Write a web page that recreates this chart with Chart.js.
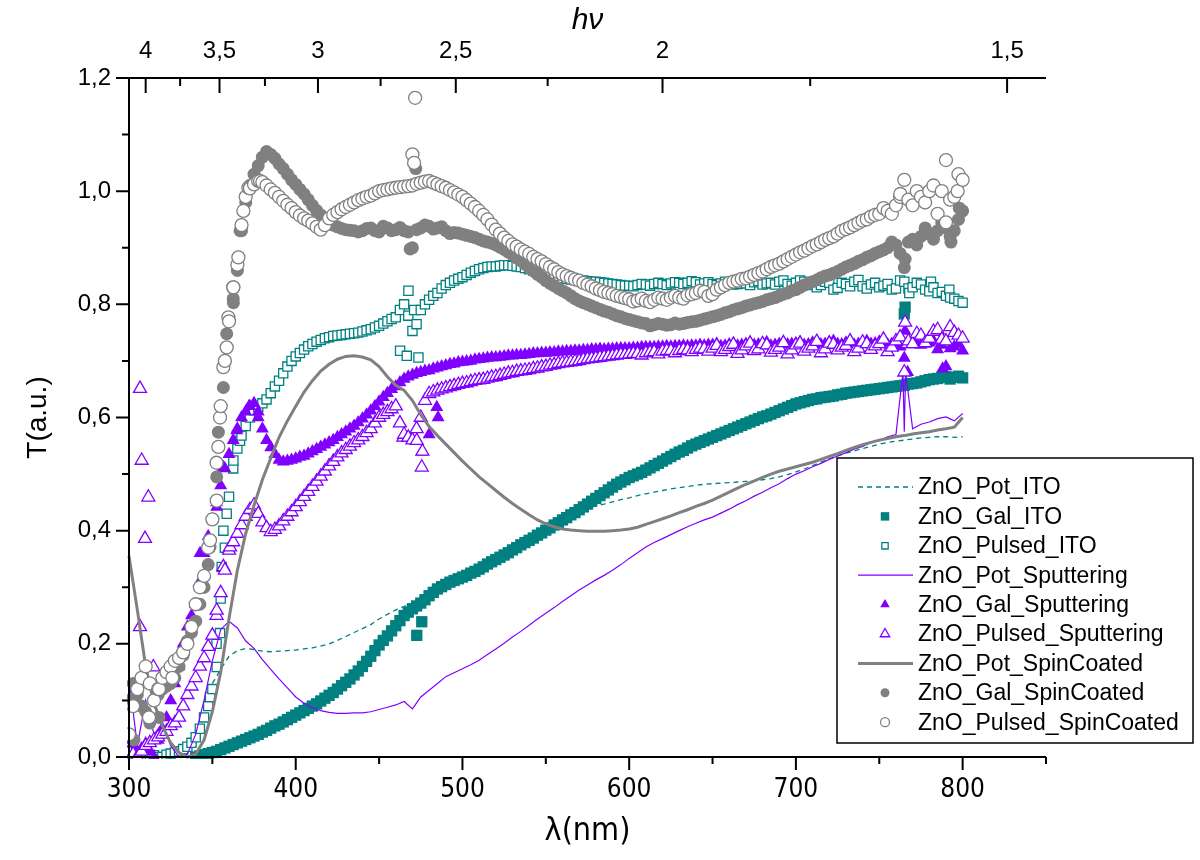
<!DOCTYPE html>
<html>
<head>
<meta charset="utf-8">
<script src="https://cdn.jsdelivr.net/npm/chart.js@4.4.1/dist/chart.umd.min.js"></script>
<style>
  html, body { margin: 0; padding: 0; background: #fff; }
  canvas { display: block; }
</style>
</head>
<body>
<canvas id="chart" width="1200" height="860" style="width:1200px;height:860px"></canvas>
<script>
// wavelength grid (nm), shared by all series
const lam = [
  300, 305, 310, 315, 320, 325, 330, 335, 340, 345,
  350, 355, 360, 365, 370, 375, 380, 385, 390, 395,
  400, 405, 410, 415, 420, 425, 430, 435, 440, 445,
  450, 455, 460, 465, 470, 475, 480, 485, 490, 495,
  500, 505, 510, 515, 520, 525, 530, 535, 540, 545,
  550, 555, 560, 565, 570, 575, 580, 585, 590, 595,
  600, 605, 610, 615, 620, 625, 630, 635, 640, 645,
  650, 655, 660, 665, 670, 675, 680, 685, 690, 695,
  700, 705, 710, 715, 720, 725, 730, 735, 740, 745,
  750, 755, 760, 765, 770, 775, 780, 785, 790, 795,
  800
];
// in-between readings for the dense marker series
const lamHalf = [
  302.5, 307.5, 312.5, 317.5, 322.5, 327.5, 332.5, 337.5, 342.5, 347.5,
  352.5, 357.5, 362.5, 367.5, 372.5, 377.5, 382.5, 387.5, 392.5, 397.5,
  402.5, 407.5, 412.5, 417.5, 422.5, 427.5, 432.5, 437.5, 442.5, 447.5,
  452.5, 457.5, 462.5, 467.5, 472.5, 477.5, 482.5, 487.5, 492.5, 497.5,
  502.5, 507.5, 512.5, 517.5, 522.5, 527.5, 532.5, 537.5, 542.5, 547.5,
  552.5, 557.5, 562.5, 567.5, 572.5, 577.5, 582.5, 587.5, 592.5, 597.5,
  602.5, 607.5, 612.5, 617.5, 622.5, 627.5, 632.5, 637.5, 642.5, 647.5,
  652.5, 657.5, 662.5, 667.5, 672.5, 677.5, 682.5, 687.5, 692.5, 697.5,
  702.5, 707.5, 712.5, 717.5, 722.5, 727.5, 732.5, 737.5, 742.5, 747.5,
  752.5, 757.5, 762.5, 767.5, 772.5, 777.5, 782.5, 787.5, 792.5, 797.5
];

const potITO = [
  null, null, null, null, null, null, null, null, null, null,
  0.13, 0.155, 0.178, 0.188, 0.192, 0.19, 0.187, 0.186, 0.187, 0.188,
  0.189, 0.191, 0.193, 0.196, 0.2, 0.206, 0.213, 0.22, 0.227, 0.234,
  0.244, 0.252, 0.26, 0.266, 0.272, 0.278, 0.285, 0.293, 0.302, 0.31,
  0.318, 0.327, 0.336, 0.345, 0.354, 0.363, 0.372, 0.381, 0.39, 0.398,
  0.406, 0.414, 0.421, 0.428, 0.434, 0.44, 0.444, 0.447, 0.451, 0.455,
  0.458, 0.462, 0.465, 0.468, 0.471, 0.474, 0.476, 0.478, 0.48, 0.482,
  0.483, 0.484, 0.485, 0.486, 0.487, 0.488, 0.49, 0.492, 0.495, 0.499,
  0.504, 0.509, 0.515, 0.521, 0.527, 0.532, 0.537, 0.541, 0.545, 0.549,
  0.553, 0.556, 0.558, 0.56, 0.562, 0.564, 0.565, 0.566, 0.566, 0.565,
  0.566
];

const galITO = [
  null, null, null, null, null, null, null, null, 0.0, 0.004,
  0.008, 0.013, 0.019, 0.025, 0.031, 0.037, 0.044, 0.051, 0.058, 0.066,
  0.074, 0.082, 0.09, 0.099, 0.109, 0.12, 0.132, 0.145, 0.16, 0.178,
  0.198, 0.214, 0.232, 0.25, 0.262, 0.272, 0.285, 0.297, 0.305, 0.312,
  0.318, 0.325, 0.332, 0.341, 0.349, 0.357, 0.366, 0.375, 0.383, 0.392,
  0.401, 0.41, 0.419, 0.428, 0.437, 0.447, 0.457, 0.467, 0.477, 0.486,
  0.494, 0.5, 0.507, 0.515, 0.523, 0.531, 0.539, 0.546, 0.553, 0.559,
  0.565, 0.571, 0.577, 0.583, 0.589, 0.595, 0.601, 0.606, 0.612, 0.618,
  0.624, 0.628, 0.632, 0.635, 0.637, 0.64, 0.643, 0.645, 0.647, 0.649,
  0.651, 0.653, 0.655, 0.657, 0.66, 0.663, 0.667, 0.669, 0.672, 0.671,
  0.67
];
const galITOHalf = [
  null, null, null, null, null, null, null, null, 0.002, 0.006,
  0.01, 0.016, 0.022, 0.028, 0.034, 0.04, 0.047, 0.055, 0.062, 0.07,
  0.078, 0.086, 0.094, 0.104, 0.114, 0.126, 0.138, 0.152, 0.169, 0.188,
  0.206, 0.223, 0.241, 0.256, 0.267, 0.278, 0.291, 0.301, 0.309, 0.315,
  0.321, 0.328, 0.336, 0.345, 0.353, 0.361, 0.37, 0.379, 0.387, 0.396,
  0.405, 0.414, 0.423, 0.432, 0.442, 0.452, 0.462, 0.472, 0.482, 0.49,
  0.497, 0.503, 0.511, 0.519, 0.527, 0.535, 0.542, 0.55, 0.556, 0.562,
  0.568, 0.574, 0.58, 0.586, 0.592, 0.598, 0.603, 0.609, 0.615, 0.621,
  0.626, 0.63, 0.633, 0.636, 0.638, 0.641, 0.644, 0.646, 0.648, 0.65,
  0.652, 0.654, 0.656, 0.659, 0.661, 0.665, 0.668, 0.671, 0.668, 0.673
];
const galITOExtraX = [472.6, 475.6, 765, 765.5];
const galITOExtraY = [0.215, 0.239, 0.783, 0.795];

const pulsedITO = [
  0.01, 0.005, 0.0, 0.003, 0.0, 0.006, 0.01, 0.018, 0.035, 0.07,
  0.12, 0.28, 0.46, 0.545, 0.585, 0.613, 0.625, 0.643, 0.665, 0.69,
  0.708, 0.72, 0.73, 0.737, 0.742, 0.745, 0.747, 0.749, 0.752, 0.756,
  0.762, 0.77, 0.777, 0.8, 0.753, 0.79, 0.808, 0.82, 0.834, 0.842,
  0.848, 0.856, 0.862, 0.866, 0.867, 0.869, 0.868, 0.866, 0.862, 0.857,
  0.853, 0.849, 0.846, 0.844, 0.842, 0.841, 0.84, 0.838, 0.836, 0.834,
  0.833, 0.834, 0.835, 0.836, 0.836, 0.837, 0.838, 0.838, 0.839, 0.837,
  0.836, 0.837, 0.838, 0.836, 0.837, 0.839, 0.835, 0.838, 0.84, 0.836,
  0.838, 0.84, 0.836, 0.834, 0.838, 0.829, 0.836, 0.84, 0.832, 0.835,
  0.83, 0.836, 0.828, 0.84, 0.83, 0.835, 0.823, 0.82, 0.815, 0.81,
  0.803
];
const pulsedITOHalf = [
  0.0, 0.008, 0.004, 0.0, 0.004, 0.008, 0.014, 0.025, 0.05, 0.09,
  0.2, 0.37, 0.51, 0.568, 0.6, 0.618, 0.632, 0.655, 0.678, 0.7,
  0.714, 0.726, 0.734, 0.74, 0.744, 0.746, 0.748, 0.75, 0.754, 0.759,
  0.766, 0.774, 0.79, 0.78, 0.765, 0.8, 0.815, 0.828, 0.838, 0.845,
  0.852, 0.859, 0.864, 0.867, 0.868, 0.869, 0.867, 0.864, 0.86, 0.855,
  0.851, 0.848, 0.845, 0.843, 0.842, 0.84, 0.839, 0.837, 0.835, 0.833,
  0.832, 0.836, 0.833, 0.838, 0.834, 0.839, 0.836, 0.841, 0.835, 0.839,
  0.834, 0.84, 0.835, 0.839, 0.834, 0.841, 0.837, 0.835, 0.842, 0.833,
  0.842, 0.834, 0.83, 0.84, 0.826, 0.838, 0.832, 0.843, 0.828, 0.838,
  0.833, 0.826, 0.842, 0.828, 0.838, 0.826, 0.83, 0.822, 0.812, 0.806
];
const pulsedITOExtraX = [348.6, 352.6, 354.6, 355.6, 356.6, 358.6, 362.6, 366.6, 462.6, 466.6, 473.6, 467.6, 471, 762.6, 768, 781, 792];
const pulsedITOExtraY = [0.106, 0.159, 0.219, 0.336, 0.4, 0.43, 0.524, 0.559, 0.718, 0.709, 0.706, 0.824, 0.79, 0.995, 0.82, 0.84, 0.826];

const potSput = [
  0.14, 0.02, 0.1, 0.04, 0.06, 0.02, 0.0, 0.005, 0.04, 0.1,
  0.17, 0.225, 0.24, 0.228, 0.205, 0.192, 0.172, 0.155, 0.138, 0.122,
  0.106, 0.095, 0.087, 0.082, 0.079, 0.077, 0.077, 0.078, 0.078, 0.08,
  0.084, 0.088, 0.092, 0.098, 0.085, 0.106, 0.118, 0.13, 0.142, 0.149,
  0.156, 0.163, 0.171, 0.181, 0.191, 0.201, 0.212, 0.222, 0.233, 0.244,
  0.254, 0.264, 0.275, 0.285, 0.295, 0.304, 0.313, 0.321, 0.33, 0.34,
  0.351, 0.361, 0.371, 0.379, 0.386, 0.393, 0.4, 0.407, 0.413, 0.419,
  0.424, 0.431, 0.438, 0.446, 0.453, 0.461, 0.468, 0.476, 0.483, 0.492,
  0.5, 0.506, 0.513, 0.519, 0.526, 0.532, 0.538, 0.544, 0.549, 0.556,
  0.559, 0.566, 0.57, 0.575, 0.58, 0.588, 0.592, 0.598, 0.601, 0.594,
  0.607
];
const potSputExtraX = [764.2, 765.8];
const potSputExtraY = [0.68, 0.68];

const galSput = [
  0.03, 0.01, 0.024, 0.0, 0.05, 0.1, 0.16, 0.23, 0.27, 0.36,
  0.42, 0.48, 0.535, 0.58, 0.61, 0.625, 0.58, 0.547, 0.525, 0.523,
  0.527, 0.532, 0.54, 0.548, 0.556, 0.565, 0.575, 0.585, 0.598, 0.612,
  0.628, 0.643, 0.655, 0.668, 0.675, 0.68, 0.683, 0.688, 0.692, 0.695,
  0.698, 0.7, 0.703, 0.705, 0.706, 0.708, 0.709, 0.71, 0.712, 0.713,
  0.714, 0.715, 0.716, 0.717, 0.718, 0.719, 0.72, 0.72, 0.721, 0.722,
  0.722, 0.723, 0.724, 0.724, 0.725, 0.725, 0.726, 0.726, 0.727, 0.727,
  0.728, 0.726, 0.729, 0.727, 0.73, 0.728, 0.731, 0.727, 0.73, 0.729,
  0.731, 0.728, 0.732, 0.729, 0.733, 0.73, 0.732, 0.728, 0.733, 0.73,
  0.734, 0.729, 0.733, 0.705, 0.73, 0.728, 0.732, 0.72, 0.69, 0.725,
  0.718
];
const galSputHalf = [
  0.02, 0.015, 0.01, 0.03, 0.07, 0.13, 0.2, 0.25, 0.31, 0.39,
  0.45, 0.51, 0.56, 0.6, 0.62, 0.61, 0.56, 0.535, 0.522, 0.525,
  0.53, 0.536, 0.544, 0.552, 0.56, 0.57, 0.58, 0.591, 0.605, 0.62,
  0.636, 0.65, 0.662, 0.672, 0.678, 0.682, 0.686, 0.69, 0.694, 0.697,
  0.699, 0.702, 0.704, 0.706, 0.707, 0.709, 0.71, 0.711, 0.713, 0.714,
  0.715, 0.716, 0.717, 0.718, 0.719, 0.72, 0.721, 0.721, 0.722, 0.722,
  0.723, 0.724, 0.724, 0.725, 0.726, 0.726, 0.727, 0.727, 0.728, 0.728,
  0.73, 0.727, 0.731, 0.728, 0.732, 0.729, 0.733, 0.728, 0.731, 0.73,
  0.733, 0.729, 0.734, 0.73, 0.735, 0.729, 0.734, 0.73, 0.735, 0.731,
  0.736, 0.73, 0.725, 0.734, 0.731, 0.73, 0.735, 0.728, 0.722, 0.73
];
const galSputExtraX = [342.6, 352.6, 356.6, 364.6, 372, 377.5, 475.6, 484.6, 485.4, 480, 765.5, 767, 788];
const galSputExtraY = [0.36, 0.442, 0.512, 0.577, 0.62, 0.6, 0.539, 0.618, 0.6, 0.57, 0.753, 0.68, 0.686];

const pulsedSput = [
  0.01, 0.0, 0.02, 0.03, 0.04, 0.055, 0.07, 0.11, 0.14, 0.175,
  0.215, 0.29, 0.365, 0.395, 0.425, 0.445, 0.415, 0.398, 0.408, 0.425,
  0.442, 0.46, 0.478, 0.496, 0.514, 0.53, 0.543, 0.555, 0.566, 0.58,
  0.6, 0.61, 0.62, 0.57, 0.56, 0.6, 0.642, 0.648, 0.652, 0.656,
  0.66, 0.663, 0.666, 0.669, 0.672, 0.676, 0.679, 0.682, 0.684, 0.687,
  0.69, 0.693, 0.696, 0.698, 0.7, 0.703, 0.705, 0.707, 0.709, 0.711,
  0.712, 0.713, 0.714, 0.716, 0.717, 0.718, 0.718, 0.719, 0.72, 0.721,
  0.722, 0.716, 0.725, 0.713, 0.726, 0.718, 0.73, 0.715, 0.724, 0.712,
  0.728, 0.717, 0.726, 0.714, 0.731, 0.719, 0.727, 0.716, 0.733, 0.72,
  0.73, 0.716, 0.735, 0.68, 0.73, 0.745, 0.74, 0.755, 0.735, 0.75,
  0.74
];
const pulsedSputHalf = [
  0.005, 0.01, 0.025, 0.035, 0.045, 0.06, 0.09, 0.125, 0.16, 0.195,
  0.25, 0.33, 0.38, 0.41, 0.437, 0.43, 0.405, 0.402, 0.417, 0.433,
  0.451, 0.469, 0.487, 0.505, 0.522, 0.537, 0.549, 0.56, 0.573, 0.59,
  0.605, 0.615, 0.59, 0.565, 0.58, 0.63, 0.645, 0.65, 0.654, 0.658,
  0.661, 0.665, 0.667, 0.671, 0.674, 0.678, 0.681, 0.683, 0.686, 0.689,
  0.692, 0.695, 0.697, 0.699, 0.702, 0.704, 0.706, 0.708, 0.71, 0.711,
  0.713, 0.71, 0.715, 0.712, 0.718, 0.714, 0.72, 0.716, 0.722, 0.717,
  0.727, 0.72, 0.729, 0.719, 0.731, 0.721, 0.728, 0.72, 0.732, 0.719,
  0.731, 0.722, 0.734, 0.721, 0.729, 0.724, 0.735, 0.722, 0.73, 0.726,
  0.738, 0.724, 0.742, 0.735, 0.748, 0.732, 0.752, 0.738, 0.76, 0.745
];
const pulsedSputExtraX = [306.6, 307.6, 311.6, 309.6, 306.6, 314.6, 352.6, 356.6, 360.6, 464.6, 472.6, 475.6, 476, 765.5, 767];
const pulsedSputExtraY = [0.651, 0.524, 0.459, 0.386, 0.23, 0.159, 0.259, 0.336, 0.371, 0.565, 0.559, 0.512, 0.54, 0.768, 0.73];

const potSpin = [
  0.355, 0.26, 0.16, 0.095, 0.055, 0.025, 0.008, 0.0, 0.005, 0.03,
  0.08, 0.15, 0.245, 0.33, 0.395, 0.445, 0.49, 0.528, 0.565, 0.594,
  0.62, 0.645, 0.665, 0.682, 0.694, 0.703, 0.708, 0.709, 0.707, 0.702,
  0.69, 0.672, 0.657, 0.648, 0.63, 0.605, 0.584, 0.568, 0.553, 0.538,
  0.523, 0.509, 0.495, 0.483, 0.471, 0.459, 0.448, 0.438, 0.428, 0.419,
  0.412, 0.407, 0.403, 0.401, 0.4, 0.399, 0.399, 0.399, 0.4, 0.401,
  0.403, 0.406, 0.411, 0.416, 0.421, 0.426, 0.432, 0.437, 0.443, 0.448,
  0.454, 0.461, 0.468, 0.475, 0.482, 0.488, 0.494, 0.5, 0.505, 0.509,
  0.513, 0.517, 0.521, 0.526, 0.531, 0.536, 0.542, 0.547, 0.552, 0.556,
  0.56, 0.563, 0.566, 0.568, 0.571, 0.573, 0.575, 0.578, 0.58, 0.583,
  0.6
];

const galSpin = [
  0.1, 0.11, 0.08, 0.1, 0.12, 0.13, 0.16, 0.205, 0.24, 0.3,
  0.42, 0.62, 0.77, 0.86, 0.98, 1.03, 1.06, 1.065, 1.048, 1.03,
  1.012, 0.995, 0.975, 0.958, 0.944, 0.937, 0.932, 0.93, 0.93, 0.935,
  0.928, 0.935, 0.932, 0.93, 0.9, 0.935, 0.938, 0.935, 0.93, 0.927,
  0.924, 0.92, 0.915, 0.91, 0.905, 0.897, 0.888, 0.877, 0.865, 0.853,
  0.842, 0.833, 0.824, 0.815, 0.806, 0.8, 0.794, 0.788, 0.783, 0.778,
  0.773, 0.769, 0.766, 0.764, 0.765, 0.764, 0.765, 0.768, 0.77, 0.774,
  0.778, 0.782, 0.787, 0.792, 0.797, 0.801, 0.805, 0.81, 0.815, 0.82,
  0.826, 0.834, 0.84, 0.847, 0.852, 0.858, 0.866, 0.872, 0.879, 0.886,
  0.893, 0.9, 0.905, 0.865, 0.915, 0.92, 0.925, 0.93, 0.935, 0.93,
  0.965
];
const galSpinHalf = [
  0.13, 0.09, 0.06, 0.11, 0.125, 0.14, 0.18, 0.22, 0.27, 0.34,
  0.52, 0.7, 0.81, 0.93, 1.01, 1.045, 1.07, 1.058, 1.04, 1.02,
  1.003, 0.985, 0.966, 0.95, 0.94, 0.934, 0.931, 0.928, 0.934, 0.93,
  0.938, 0.93, 0.936, 0.928, 0.932, 0.94, 0.933, 0.937, 0.925, 0.926,
  0.922, 0.918, 0.912, 0.908, 0.901, 0.892, 0.882, 0.871, 0.859, 0.848,
  0.837, 0.828, 0.82, 0.81, 0.803, 0.797, 0.791, 0.786, 0.78, 0.775,
  0.771, 0.767, 0.762, 0.766, 0.763, 0.767, 0.766, 0.769, 0.772, 0.776,
  0.78, 0.785, 0.79, 0.794, 0.799, 0.803, 0.808, 0.812, 0.818, 0.824,
  0.83, 0.837, 0.843, 0.85, 0.855, 0.862, 0.869, 0.876, 0.883, 0.89,
  0.896, 0.91, 0.89, 0.91, 0.905, 0.935, 0.915, 0.945, 0.92, 0.95
];
const galSpinExtraX = [344.6, 348.6, 352.6, 353.6, 356.6, 358.6, 362.6, 366.6, 372.5, 468.6, 472, 765.5, 798, 793, 303, 308, 318];
const galSpinExtraY = [0.3, 0.371, 0.495, 0.574, 0.653, 0.748, 0.803, 0.93, 1.01, 0.898, 1.04, 0.88, 0.97, 0.91, 0.03, 0.14, 0.07];

const pulsedSpin = [
  0.04, 0.12, 0.16, 0.1, 0.14, 0.16, 0.175, 0.2, 0.27, 0.32,
  0.42, 0.62, 0.77, 0.87, 0.99, 1.012, 1.016, 1.003, 0.99, 0.976,
  0.963, 0.952, 0.943, 0.932, 0.952, 0.963, 0.972, 0.98, 0.987, 0.992,
  1.0, 1.003, 1.006, 1.008, 1.01, 1.015, 1.018, 1.012, 1.006, 0.998,
  0.99, 0.978, 0.965, 0.95, 0.932, 0.918, 0.906, 0.897, 0.889, 0.88,
  0.871, 0.862, 0.853, 0.847, 0.842, 0.835, 0.828, 0.822, 0.818, 0.813,
  0.809, 0.807, 0.806, 0.808, 0.81, 0.812, 0.812, 0.816, 0.82, 0.822,
  0.818, 0.83, 0.838, 0.842, 0.846, 0.852, 0.858, 0.866, 0.872, 0.88,
  0.888, 0.895, 0.903, 0.91, 0.917, 0.925, 0.933, 0.94, 0.948, 0.955,
  0.96, 0.965, 0.975, 1.02, 0.975, 0.99, 1.0, 0.96, 1.055, 0.99,
  1.02
];
const pulsedSpinHalf = [
  0.09, 0.14, 0.13, 0.12, 0.15, 0.17, 0.185, 0.23, 0.3, 0.37,
  0.52, 0.7, 0.83, 0.94, 1.005, 1.018, 1.01, 0.997, 0.983, 0.97,
  0.957, 0.948, 0.937, 0.94, 0.958, 0.968, 0.976, 0.984, 0.99, 0.996,
  1.002, 1.005, 1.007, 1.009, 1.013, 1.017, 1.015, 1.009, 1.002, 0.994,
  0.984, 0.972, 0.958, 0.941, 0.925, 0.912, 0.902, 0.893, 0.884, 0.876,
  0.866, 0.857, 0.85, 0.844, 0.838, 0.832, 0.825, 0.82, 0.815, 0.811,
  0.805, 0.81, 0.804, 0.812, 0.808, 0.815, 0.81, 0.818, 0.824, 0.815,
  0.826, 0.834, 0.84, 0.845, 0.849, 0.855, 0.862, 0.869, 0.876, 0.884,
  0.892, 0.899, 0.906, 0.914, 0.92, 0.93, 0.936, 0.944, 0.95, 0.958,
  0.97, 0.96, 0.99, 0.985, 1.0, 0.98, 1.01, 1.0, 0.985, 1.03
];
const pulsedSpinExtraX = [348.6, 352.6, 353.6, 354.6, 356.6, 358.6, 359.6, 362.6, 365.6, 368.6, 371.6, 378.6, 470, 471, 471.6, 762.6, 790, 797, 312, 318, 326];
const pulsedSpinExtraY = [0.383, 0.453, 0.548, 0.6, 0.689, 0.724, 0.777, 0.83, 0.883, 0.965, 1.006, 1.018, 1.065, 1.05, 1.165, 0.995, 0.945, 1.0, 0.07, 0.12, 0.14];

// axes
const xTickValues = [300, 400, 500, 600, 700, 800];
const xMinorTicks = [350, 450, 550, 650, 750, 850];
const yTickValues = [0, 0.2, 0.4, 0.6, 0.8, 1.0, 1.2];
const yMinorTicks = [0.1, 0.3, 0.5, 0.7, 0.9, 1.1];
const topEnergies = [4, 3.5, 3, 2.5, 2, 1.5];
const topMinorEnergies = [3.75, 3.25, 2.75, 2.25, 1.75];
const topTickLabels = ['4', '3,5', '3', '2,5', '2', '1,5'];

const TEAL = '#008080';
const PURPLE = '#8000ff';
const GRAY = '#808080';
const SANS = "'Liberation Sans', Arial, sans-serif";
const NARROW = "'Liberation Sans Narrow', 'DejaVu Sans Condensed', sans-serif";

function pts(vals, half, exX, exY) {
  const out = [];
  lam.forEach((x, i) => { if (vals[i] !== null) out.push({ x: x, y: vals[i] }); });
  if (half) lamHalf.forEach((x, i) => { if (half[i] !== null) out.push({ x: x, y: half[i] }); });
  (exX || []).forEach((x, i) => out.push({ x: x, y: exY[i] }));
  return out.sort((a, b) => a.x - b.x);
}

const lineDs = (label, data, color, width, dash) => ({
  label, data, showLine: true, borderColor: color, backgroundColor: color,
  borderWidth: width, borderDash: dash || [], pointRadius: 0, tension: 0
});
const markDs = (label, data, style, radius, color, filled) => ({
  label, data, showLine: false, pointStyle: style, pointRadius: radius,
  pointBorderColor: color, pointBackgroundColor: filled ? color : '#ffffff',
  pointBorderWidth: filled ? 0 : 1.3
});

const datasets = [
  lineDs('ZnO_Pot_ITO', pts(potITO), TEAL, 1.3, [5, 4]),
  markDs('ZnO_Gal_ITO', pts(galITO, galITOHalf, galITOExtraX, galITOExtraY), 'rect', 8, TEAL, true),
  markDs('ZnO_Pulsed_ITO', pts(pulsedITO, pulsedITOHalf, pulsedITOExtraX, pulsedITOExtraY), 'rect', 6.5, TEAL, false),
  lineDs('ZnO_Pot_Sputtering', pts(potSput, null, potSputExtraX, potSputExtraY), PURPLE, 1.2),
  markDs('ZnO_Gal_Sputtering', pts(galSput, galSputHalf, galSputExtraX, galSputExtraY), 'triangle', 7.5, PURPLE, true),
  markDs('ZnO_Pulsed_Sputtering', pts(pulsedSput, pulsedSputHalf, pulsedSputExtraX, pulsedSputExtraY), 'triangle', 7.5, PURPLE, false),
  lineDs('ZnO_Pot_SpinCoated', pts(potSpin), GRAY, 3),
  markDs('ZnO_Gal_SpinCoated', pts(galSpin, galSpinHalf, galSpinExtraX, galSpinExtraY), 'circle', 6.5, GRAY, true),
  markDs('ZnO_Pulsed_SpinCoated', pts(pulsedSpin, pulsedSpinHalf, pulsedSpinExtraX, pulsedSpinExtraY), 'circle', 6.5, GRAY, false)
];
// later series drawn on top
datasets.forEach((d, i) => { d.order = datasets.length - i; d.clip = 2; });

// axis lines and tick marks (bottom, left, top energy axis)
const axesPlugin = {
  id: 'axesLines',
  afterDraw(chart) {
    const { ctx, chartArea: ca, scales } = chart;
    const x = scales.x, y = scales.y;
    ctx.save();
    ctx.strokeStyle = '#000';
    ctx.lineWidth = 2;
    ctx.beginPath();
    ctx.moveTo(ca.left, ca.top); ctx.lineTo(ca.left, ca.bottom + 1);
    ctx.moveTo(ca.left - 1, ca.bottom); ctx.lineTo(ca.right, ca.bottom);
    ctx.moveTo(ca.left - 1, ca.top); ctx.lineTo(ca.right, ca.top);
    ctx.stroke();
    ctx.beginPath();
    xTickValues.forEach(v => { const p = x.getPixelForValue(v); ctx.moveTo(p, ca.bottom); ctx.lineTo(p, ca.bottom + 13); });
    xMinorTicks.forEach(v => { const p = x.getPixelForValue(v); ctx.moveTo(p, ca.bottom); ctx.lineTo(p, ca.bottom + 7); });
    yTickValues.forEach(v => { const p = y.getPixelForValue(v); ctx.moveTo(ca.left, p); ctx.lineTo(ca.left - 13, p); });
    yMinorTicks.forEach(v => { const p = y.getPixelForValue(v); ctx.moveTo(ca.left, p); ctx.lineTo(ca.left - 7, p); });
    topEnergies.forEach(e => { const p = x.getPixelForValue(1240 / e); ctx.moveTo(p, ca.top); ctx.lineTo(p, ca.top + 15); });
    topMinorEnergies.forEach(e => { const p = x.getPixelForValue(1240 / e); ctx.moveTo(p, ca.top); ctx.lineTo(p, ca.top + 8); });
    ctx.stroke();
    ctx.restore();
  }
};

// boxed legend, partly outside the plot like the original
const legendPlugin = {
  id: 'boxLegend',
  afterDraw(chart) {
    const ctx = chart.ctx;
    const box = { l: 837, t: 458, r: 1193, b: 743 };
    ctx.save();
    ctx.fillStyle = '#fff';
    ctx.fillRect(box.l, box.t, box.r - box.l, box.b - box.t);
    ctx.strokeStyle = '#000';
    ctx.lineWidth = 1.5;
    ctx.strokeRect(box.l, box.t, box.r - box.l, box.b - box.t);
    ctx.font = '23px ' + SANS;
    ctx.textBaseline = 'middle';
    datasets.forEach((d, i) => {
      const cy = 487 + i * 29.4;
      if (d.showLine) {
        ctx.save();
        ctx.strokeStyle = d.borderColor;
        ctx.lineWidth = d.borderWidth;
        ctx.setLineDash(d.borderDash);
        ctx.beginPath(); ctx.moveTo(858, cy); ctx.lineTo(913, cy); ctx.stroke();
        ctx.restore();
      } else {
        ctx.save();
        ctx.fillStyle = d.pointBackgroundColor;
        ctx.strokeStyle = d.pointBorderColor;
        ctx.lineWidth = d.pointBorderWidth;
        Chart.helpers.drawPoint(ctx, {
          pointStyle: d.pointStyle, radius: d.pointRadius - 2, rotation: 0,
          borderWidth: d.pointBorderWidth
        }, 885, cy);
        ctx.restore();
      }
      ctx.fillStyle = '#000';
      ctx.fillText(d.label, 918, cy + 1);
    });
    ctx.restore();
  }
};

const hiddenGrid = { display: true, drawOnChartArea: false, drawTicks: true, tickLength: 12, color: 'rgba(0,0,0,0)' };

new Chart(document.getElementById('chart').getContext('2d'), {
  type: 'scatter',
  data: { datasets: datasets },
  options: {
    responsive: false,
    animation: false,
    events: [],
    devicePixelRatio: 1,
    layout: { padding: { left: 0, right: 154, top: 0, bottom: 0 } },
    plugins: { legend: { display: false }, tooltip: { enabled: false } },
    scales: {
      x: {
        type: 'linear', position: 'bottom', min: 300, max: 850,
        afterBuildTicks: s => { s.ticks = xTickValues.map(v => ({ value: v })); },
        afterFit: s => { s.height = 103; },
        grid: hiddenGrid,
        border: { display: false },
        ticks: { font: { family: NARROW, size: 26 }, color: '#000', padding: 6, maxRotation: 0, autoSkip: false, callback: v => String(v) },
        title: { display: true, text: 'λ(nm)', color: '#000', font: { family: NARROW, size: 32 }, padding: { top: 0, bottom: 9 } }
      },
      x2: {
        type: 'linear', position: 'top', min: 300, max: 850,
        afterBuildTicks: s => { s.ticks = topEnergies.map(e => ({ value: 1240 / e })); },
        afterFit: s => { s.height = 78; },
        grid: hiddenGrid,
        border: { display: false },
        ticks: { font: { family: SANS, size: 24 }, color: '#000', padding: 0, maxRotation: 0, autoSkip: false, callback: (v, i) => topTickLabels[i] },
        title: { display: true, text: 'hν', color: '#000', font: { family: SANS, size: 30, style: 'italic' }, padding: { top: 3, bottom: 0 } }
      },
      y: {
        type: 'linear', position: 'left', min: 0, max: 1.2,
        afterBuildTicks: s => { s.ticks = yTickValues.map(v => ({ value: v })); },
        afterFit: s => { s.width = 129; },
        grid: hiddenGrid,
        border: { display: false },
        ticks: { font: { family: SANS, size: 24 }, color: '#000', padding: 6, callback: v => v.toFixed(1).replace('.', ',') },
        title: { display: true, text: 'T(a.u.)', color: '#000', font: { family: SANS, size: 28 }, padding: { top: 21, bottom: 0 } }
      }
    }
  },
  plugins: [axesPlugin, legendPlugin]
});
</script>
</body>
</html>
